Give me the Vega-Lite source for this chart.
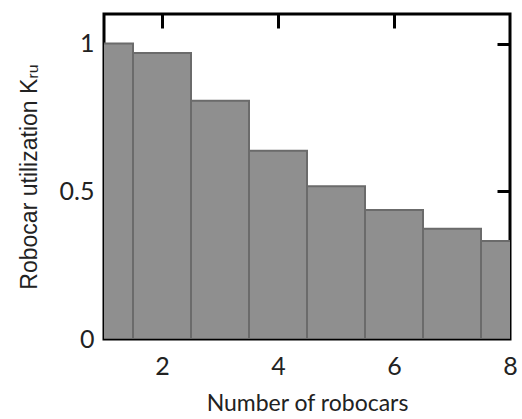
{
  "$schema": "https://vega.github.io/schema/vega-lite/v6.json",
  "autosize": {"type": "none"},
  "padding": {"left": 104, "top": 14, "right": 12, "bottom": 80},
  "width": 406,
  "height": 325,
  "background": "white",
  "config": {
    "view": {"stroke": "black", "strokeWidth": 3},
    "font": "Lato"
  },
  "data": {
    "values": [
      {"n": 1, "x0": 0.5, "x1": 1.5, "k": 1.0},
      {"n": 2, "x0": 1.5, "x1": 2.5, "k": 0.968},
      {"n": 3, "x0": 2.5, "x1": 3.5, "k": 0.806},
      {"n": 4, "x0": 3.5, "x1": 4.5, "k": 0.637},
      {"n": 5, "x0": 4.5, "x1": 5.5, "k": 0.517},
      {"n": 6, "x0": 5.5, "x1": 6.5, "k": 0.437},
      {"n": 7, "x0": 6.5, "x1": 7.5, "k": 0.373},
      {"n": 8, "x0": 7.5, "x1": 8.5, "k": 0.332}
    ]
  },
  "resolve": {"axis": {"x": "independent", "y": "independent"}},
  "layer": [
    {
      "mark": {"type": "bar", "clip": true, "fill": "#8f8f8f", "stroke": "#6b6b6b", "strokeWidth": 2},
      "encoding": {
        "x": {
          "field": "x0", "type": "quantitative",
          "scale": {"domain": [1, 8], "nice": false, "zero": false},
          "axis": {
            "orient": "bottom", "values": [2, 4, 6, 8], "domain": false, "ticks": false, "grid": false,
            "labelFontSize": 25, "labelColor": "#222", "labelPadding": 15, "labelFlush": false,
            "title": "Number of robocars", "titleFontSize": 23, "titleFontWeight": "normal", "titleColor": "#222", "titlePadding": 13
          }
        },
        "x2": {"field": "x1"},
        "y": {
          "field": "k", "type": "quantitative",
          "scale": {"domain": [0, 1.1], "nice": false},
          "axis": {
            "orient": "left", "values": [0, 0.5, 1], "format": "~g", "domain": false, "ticks": false, "grid": false,
            "labelFontSize": 25, "labelColor": "#222", "labelPadding": 10, "labelFlush": false,
            "title": "Robocar utilization Kᵣᵤ", "titleFont": "Liberation Sans", "titleFontSize": 23, "titleFontWeight": "normal", "titleColor": "#222", "titlePadding": 18
          }
        },
        "y2": {"datum": 0}
      }
    },
    {
      "mark": {"type": "bar", "opacity": 0},
      "encoding": {
        "x": {
          "field": "x0", "type": "quantitative",
          "axis": {"orient": "top", "values": [2, 4, 6], "domain": false, "labels": false, "grid": false, "title": null,
                   "ticks": true, "tickSize": -14, "tickWidth": 3, "tickColor": "black"}
        },
        "x2": {"field": "x1"},
        "y": {
          "field": "k", "type": "quantitative",
          "axis": {"orient": "right", "values": [0.5, 1], "domain": false, "labels": false, "grid": false, "title": null,
                   "ticks": true, "tickSize": -13, "tickWidth": 3, "tickColor": "black"}
        },
        "y2": {"datum": 0}
      }
    }
  ]
}
